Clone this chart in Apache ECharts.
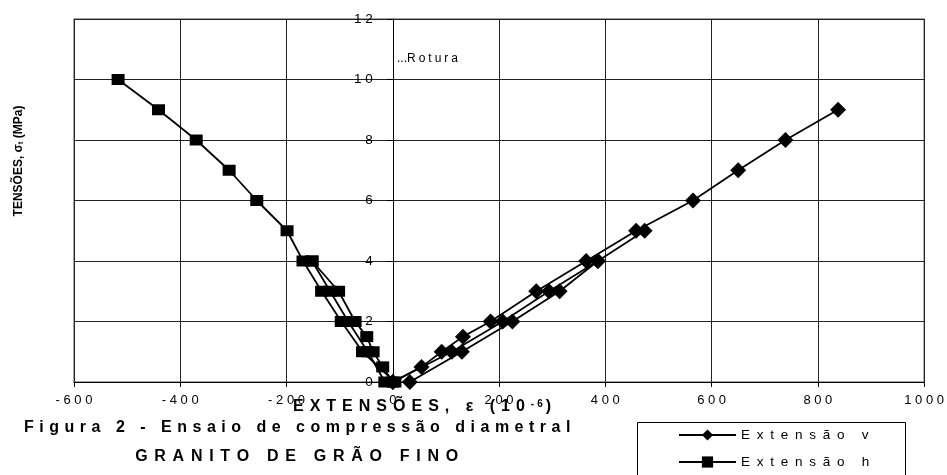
<!DOCTYPE html>
<html>
<head>
<meta charset="utf-8">
<script src="https://cdn.jsdelivr.net/npm/echarts@6/dist/echarts.min.js"></script>
<style>
  html, body { margin: 0; padding: 0; background: #fff; }
  #chart { width: 947px; height: 475px; }
</style>
</head>
<body>
<div id="chart"></div>
<script>
// extensões (10^-6) x tensões (MPa) - 3 ciclos de carga por extensómetro
const vRun1 = [[0, 0], [54, 0.5], [92, 1], [132, 1.5], [184, 2], [270, 3], [364, 4], [458, 5], [565, 6], [650, 7], [739, 8], [838, 9]];
const vRun2 = [[0, 0], [111, 1], [207, 2], [294, 3], [386, 4], [474, 5]];
const vRun3 = [[32, 0], [130, 1], [225, 2], [314, 3], [386, 4]];

const hRun1 = [[0, 0], [-19, 0.5], [-37, 1], [-49, 1.5], [-71, 2], [-102, 3], [-152, 4]];
const hRun2 = [[-15, 0], [-47, 1], [-84, 2], [-118, 3], [-152, 4]];
const hRun3 = [[4, 0], [-57, 1], [-97, 2], [-134, 3], [-169, 4], [-199, 5], [-256, 6], [-308, 7], [-370, 8], [-441, 9], [-517, 10]];

const seriesNames = ["Extensão v", "Extensão h"];
const xScale = [-600, 1000, 200]; // min, max, intervalo
const yScale = [0, 12, 2];

const font = "Arial, 'Liberation Sans', sans-serif";
const gridLeft = 74;

// letras espaçadas, cada letra um token rich com padding à direita
const spread = (text, key) =>
  text.split("").map((c) => "{" + key + "|" + c + "}").join("");
const spaced = (text, sep) => String(text).split("").join(sep);

const lineSeries = (name, data, symbol, size) => ({
  name: name,
  type: "line",
  data: data,
  symbol: symbol,
  symbolSize: size,
  showSymbol: true,
  lineStyle: { color: "#000", width: 1.8 },
  itemStyle: { color: "#000" },
  emphasis: { disabled: true },
});

const chart = echarts.init(document.getElementById("chart"));

const boldRich = (size, gap) => ({
  fontFamily: font,
  fontWeight: "bold",
  fontSize: size,
  padding: [0, gap, 0, 0],
  color: "#000",
});

chart.setOption({
  animation: false,
  backgroundColor: "#fff",
  grid: {
    left: gridLeft,
    right: 22,
    top: 19,
    bottom: 93,
    show: true,
    borderColor: "#888",
    borderWidth: 1.5,
  },
  xAxis: {
    type: "value",
    min: xScale[0],
    max: xScale[1],
    interval: xScale[2],
    axisLine: { onZero: false, lineStyle: { color: "#000", width: 1 } },
    axisTick: { show: true, length: 5, lineStyle: { color: "#000" } },
    axisLabel: {
      margin: 12,
      color: "#000",
      fontSize: 13,
      fontFamily: font,
      formatter: (v) => spaced(v, " "),
    },
    splitLine: { show: true, lineStyle: { color: "#222", width: 1 } },
  },
  yAxis: {
    type: "value",
    min: yScale[0],
    max: yScale[1],
    interval: yScale[2],
    axisLine: { show: true, onZero: false, lineStyle: { color: "#000", width: 1 } },
    axisTick: { show: true, length: 6, lineStyle: { color: "#000" } },
    axisLabel: {
      margin: 20,
      color: "#000",
      fontSize: 13.5,
      fontFamily: font,
      formatter: (v) => spaced(v, " "),
    },
    splitLine: { show: true, lineStyle: { color: "#222", width: 1 } },
  },
  legend: {
    data: seriesNames,
    orient: "vertical",
    left: 678,
    top: 428,
    padding: 0,
    itemGap: 13,
    itemWidth: 57,
    itemHeight: 14,
    formatter: (name) => spaced(name, "\u2002"),
    textStyle: { fontSize: 13.5, color: "#000", fontFamily: font },
  },
  graphic: [
    {
      type: "rect",
      shape: { x: 637.5, y: 422.5, width: 268, height: 70 },
      style: { fill: "none", stroke: "#000", lineWidth: 1 },
    },
    {
      type: "text",
      x: 397,
      y: 59,
      style: {
        text: "..." + spread("Rotura", "r"),
        rich: { r: { fontFamily: font, fontSize: 12, padding: [0, 3, 0, 0], color: "#000" } },
        font: "12px " + font,
        fill: "#000",
        align: "left",
        verticalAlign: "middle",
      },
    },
    {
      type: "text",
      x: 293,
      y: 407,
      style: {
        text: spread("EXTENSÕES, ε (10", "a") + spread("-6", "s") + spread(")", "a"),
        rich: {
          a: boldRich(16, 6),
          s: Object.assign(boldRich(10, 3), { verticalAlign: "top" }),
        },
        fill: "#000",
        align: "left",
        verticalAlign: "middle",
      },
    },
    {
      type: "text",
      x: 300,
      y: 428,
      style: {
        text: spread("Figura 2 - Ensaio de compressão diametral", "c"),
        rich: { c: boldRich(16, 5.5) },
        fill: "#000",
        align: "center",
        verticalAlign: "middle",
      },
    },
    {
      type: "text",
      x: 300,
      y: 457,
      style: {
        text: spread("GRANITO DE GRÃO FINO", "c"),
        rich: { c: boldRich(16, 6.7) },
        fill: "#000",
        align: "center",
        verticalAlign: "middle",
      },
    },
    {
      type: "text",
      x: 19,
      y: 161,
      rotation: Math.PI / 2,
      style: {
        text: "{b|TENSÕES, σ}{t|t}{b| (MPa)}",
        rich: {
          b: { fontFamily: font, fontWeight: "bold", fontSize: 12, color: "#000" },
          t: { fontFamily: font, fontWeight: "bold", fontSize: 8, color: "#000", verticalAlign: "bottom" },
        },
        fill: "#000",
        align: "center",
        verticalAlign: "middle",
      },
    },
  ],
  series: [
    lineSeries(seriesNames[1], hRun1, "rect", [13, 11]),
    lineSeries(seriesNames[1], hRun2, "rect", [13, 11]),
    lineSeries(seriesNames[1], hRun3, "rect", [13, 11]),
    lineSeries(seriesNames[0], vRun1, "diamond", 16),
    lineSeries(seriesNames[0], vRun2, "diamond", 16),
    lineSeries(seriesNames[0], vRun3, "diamond", 16),
  ],
});

// eixo vertical cruza em x = 0 (como no Excel)
const zeroX = chart.convertToPixel({ xAxisIndex: 0 }, 0);
chart.setOption({ yAxis: { offset: gridLeft - zeroX } });
</script>
</body>
</html>
